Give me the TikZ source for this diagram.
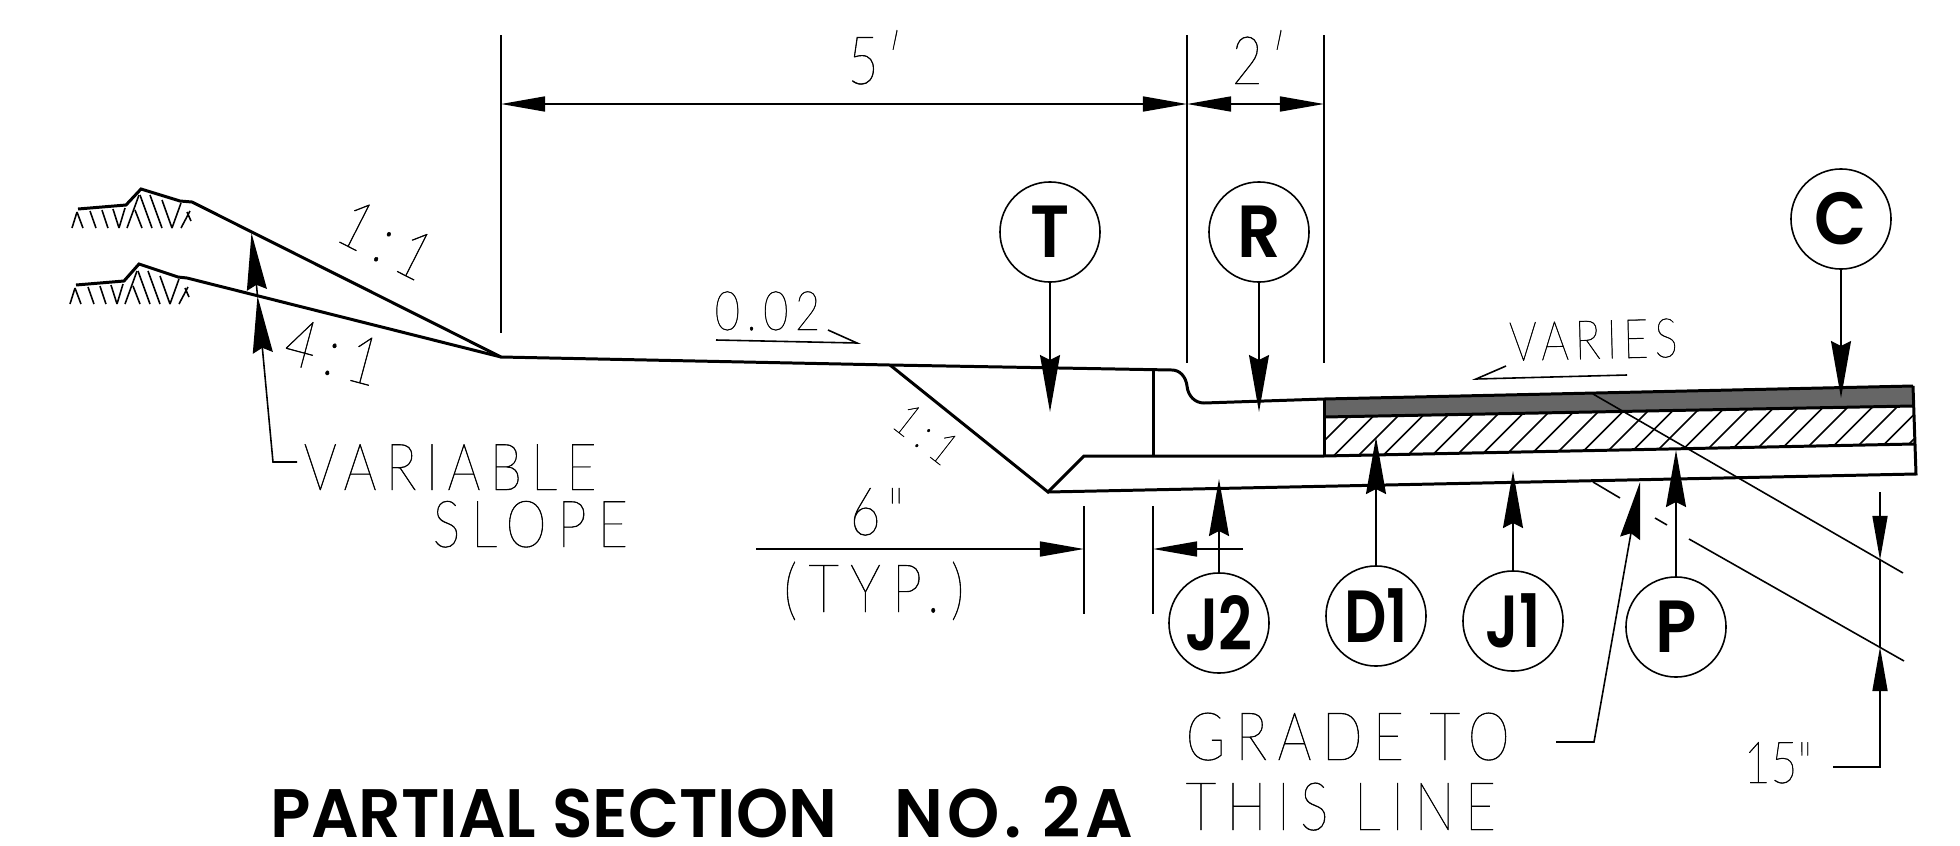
\documentclass[tikz,border=0pt]{standalone}
\usepackage{fontspec}
\usepackage{tikz}
\usetikzlibrary{arrows.meta}
\newfontfamily\cadfont[FakeStretch=0.8,LetterSpace=14,FakeBold=0.7]{Lato Thin}
\newfontfamily\tagfont[FakeStretch=0.92]{Poppins SemiBold}
\newfontfamily\titlefont[FakeStretch=0.97]{Poppins SemiBold}
\definecolor{dark-gray}{gray}{0.4}
\tikzset{
  outline/.style={line width=0.85pt},
  thin line/.style={line width=0.45pt},
  dimtip/.tip={Triangle[length=4.4mm,width=1.5mm]},
  leadtip/.tip={Stealth[length=5.7mm,width=2mm,inset=0.5mm]},
  tag/.style={draw,thin line,circle,minimum size=1cm,inner sep=0pt,font=\tagfont\fontsize{21}{24}\selectfont},
  cad/.style={anchor=base west,inner sep=0pt,font=\cadfont\fontsize{#1}{#1}\selectfont},
  cad/.default=18.5
}
\begin{document}
\begin{tikzpicture}[x=0.01cm,y=-0.01cm]
\useasboundingbox (0,0) rectangle (1960,845);

\fill[dark-gray] (1324,399) -- (1913,386) -- (1913,406) -- (1324,417) -- cycle;
\begin{scope}
\clip (1324,417) -- (1913,406) -- (1914,444) -- (1324,456) -- cycle;
\foreach \k in {0,...,25}
  \draw[thin line] (1309+24.5*\k,456) -- ++(50,-50);
\end{scope}

\draw[outline] (78,209) -- (126,205) -- (141,189) -- (180,201) -- (192,202) -- (501,357) -- (890,365) -- (1172,370)
  .. controls (1180,370) and (1186,377) .. (1187,386) .. controls (1188,396) and (1195,403) .. (1204,403)
  -- (1324,399) -- (1913,386);
\draw[outline] (76,285) -- (124,281) -- (139,264) -- (178,277) -- (187,278) -- (501,357);
\draw[outline] (890,365) -- (1048,492) -- (1084,456) -- (1324,456) -- (1914,444);
\draw[outline] (1048,492) -- (1916,474) -- (1913,386);
\draw[outline] (1324,417) -- (1913,406);
\draw[outline] (1153,370) -- (1153,456);
\draw[outline] (1324,399) -- (1324,456);

\foreach \sx/\sy in {0/0,-2/76}
  \foreach \xa/\ya/\xb/\yb in {72/228/77/212,77/212/83/228,90/211/96/228,102/210/108/228,113/209/119/228,119/228/125/208,127/228/139/195,135/210/142/228,140/195/152/228,150/195/162/228,162/200/172/228,172/228/181/203,181/228/190/211,187/212/191/221}
    \draw[thin line] (\xa+\sx,\ya+\sy) -- (\xb+\sx,\yb+\sy);

\draw[thin line] (1593,394) -- (1903,573);
\draw[thin line] (1593,482) -- (1620,498);
\draw[thin line] (1655,518) -- (1667,525);
\draw[thin line] (1689,539) -- (1904,661);

\draw[thin line] (501,35) -- (501,333);
\draw[thin line] (1187,35) -- (1187,363);
\draw[thin line] (1324,35) -- (1324,363);
\draw[thin line,{dimtip}-{dimtip}] (501,104) -- (1187,104);
\draw[thin line,{dimtip}-{dimtip}] (1187,104) -- (1324,104);
\node[cad=19] (five) at (847,84) {\addfontfeature{LetterSpace=12}5′};
\node[cad=19] (two) at (1231,84) {\addfontfeature{LetterSpace=12}2′};

\draw[thin line] (1084,506) -- (1084,614);
\draw[thin line] (1153,506) -- (1153,614);
\draw[thin line,-{dimtip}] (756,549) -- (1084,549);
\draw[thin line,-{dimtip}] (1243,549) -- (1153,549);
\node[cad=19] (six) at (849,535) {\addfontfeature{LetterSpace=10}6"};
\node[cad=19] (typ) at (783,612) {\addfontfeature{LetterSpace=17}(TYP.)};

\draw[thin line,-{dimtip}] (1880,492) -- (1880,560);
\draw[thin line] (1880,560) -- (1880,647);
\draw[thin line,-{dimtip}] (1833,767) -- (1880,767) -- (1880,647);
\node[cad=16.5] (fifteen) at (1743,783) {\addfontfeature{LetterSpace=0}15"};

\node[tag] (T) at (1050,232) {T};
\node[tag] (R) at (1259,232) {R};
\node[tag] (C) at (1841,219) {C};
\node[tag] (J2) at (1219,623) {\addfontfeature{FakeStretch=0.8}J2};
\node[tag] (D1) at (1376,616) {\addfontfeature{FakeStretch=0.8}D1};
\node[tag] (J1) at (1513,621) {\addfontfeature{FakeStretch=0.8}J1};
\node[tag] (P) at (1676,627) {P};

\coordinate (Ttip) at (1050,412);
\coordinate (Rtip) at (1259,412);
\coordinate (Ctip) at (1841,398);
\coordinate (J2tip) at (1219,479);
\coordinate (D1tip) at (1376,437);
\coordinate (J1tip) at (1513,471);
\coordinate (Ptip) at (1676,450);
\foreach \a in {T,R,C,J2,D1,J1,P}
  \draw[thin line,-{leadtip}] (\a) -- (\a tip);

\coordinate (gradeend) at (1556,742);
\coordinate (gradetip) at (1640,482);
\draw[thin line,-{leadtip}] (gradeend) -- (1594,742) -- (gradetip);
\node[cad=19] (grade) at (1185,760) {\addfontfeature{LetterSpace=15.5}GRADE TO};
\node[cad=19] (line) at (1185,830) {\addfontfeature{LetterSpace=15.5}THIS LINE};

\coordinate (varend) at (297,462);
\coordinate (vartip) at (257.5,296);
\coordinate (vartop) at (251.5,233);
\draw[thin line,-{leadtip}] (varend) -- (273,462) -- (vartip);
\draw[thin line,-{leadtip}] (vartip) -- (vartop);
\node[cad] (variable) at (303,490) {VARIABLE};
\node[cad] (slope) at (432,547) {\addfontfeature{LetterSpace=17}SLOPE};

\node[cad=15.5] (grade02) at (714,330) {\addfontfeature{LetterSpace=12}0.02};
\draw[thin line] (716,340) -- (857,343) -- (828,330);
\node[cad=15.5,rotate=1.4] (varies) at (1509,361) {\addfontfeature{LetterSpace=11}VARIES};
\draw[thin line] (1627,375) -- (1476,379) -- (1506,366);

\node[cad=19,anchor=center,rotate=-27] (topslope) at (386,240) {\addfontfeature{LetterSpace=16}1:1};
\node[cad=19,anchor=center,rotate=-15] (lowslope) at (333,352) {\addfontfeature{LetterSpace=16}4:1};
\node[cad=13,anchor=center,rotate=-38] (ditchslope) at (926,434) {\addfontfeature{LetterSpace=18}1:1};

\node[anchor=base west,inner sep=0pt,font=\titlefont\fontsize{19.5}{22}\selectfont] (title) at (270,837) {PARTIAL SECTION\hspace{0.6em} {\addfontfeature{LetterSpace=7}NO. 2A}};

\end{tikzpicture}
\end{document}
